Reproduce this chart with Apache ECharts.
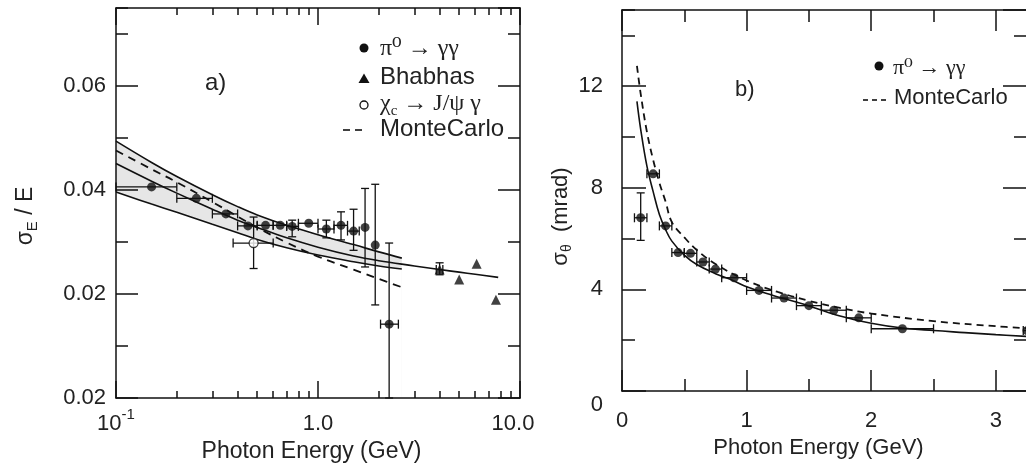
<!DOCTYPE html>
<html><head><meta charset="utf-8">
<script src="https://cdn.jsdelivr.net/npm/echarts@6.0.0/dist/echarts.min.js"></script>
<style>html,body{margin:0;padding:0;background:#fff}#c{width:1026px;height:471px}</style>
</head><body><div id="c"></div>
<script>
// ===================== DATA =====================
// ---- Panel a) energy resolution vs photon energy (log x) ----
const aPi0E      = [0.15, 0.25, 0.35, 0.45, 0.55, 0.65, 0.745, 0.9, 1.1, 1.3, 1.5, 1.71, 1.92, 2.25];
const aPi0Res    = [0.0406, 0.0384, 0.0354, 0.0331, 0.0332, 0.0332, 0.0330, 0.0336, 0.0325, 0.0332, 0.0321, 0.0328, 0.0294, 0.0142];
const aPi0ELo    = [0.1, 0.2, 0.3, 0.4, 0.5, 0.6, 0.7, 0.8, 1.0, 1.2, 1.4, null, null, 2.04];
const aPi0EHi    = [0.2, 0.3, 0.4, 0.5, 0.6, 0.7, 0.8, 1.0, 1.2, 1.4, 1.6, null, null, 2.5];
const aPi0ResLo  = [null, null, null, null, null, null, 0.0310, null, 0.0308, 0.0304, 0.0284, 0.0252, 0.0179, 0];
const aPi0ResHi  = [null, null, null, null, null, null, 0.0342, null, 0.0342, 0.0358, 0.0363, 0.0403, 0.0411, 0.0298];

const aBhabhaE     = [4.0, 5.0, 6.1, 7.6];
const aBhabhaRes   = [0.0247, 0.0228, 0.0258, 0.0189];
const aBhabhaELo   = [3.85, null, null, null];
const aBhabhaEHi   = [4.15, null, null, null];
const aBhabhaResLo = [0.0237, null, null, null];
const aBhabhaResHi = [0.0260, null, null, null];

const aChicE     = [0.48];
const aChicRes   = [0.0298];
const aChicELo   = [0.38];
const aChicEHi   = [0.60];
const aChicResLo = [0.0249];
const aChicResHi = [0.0348];

const aBandE     = [0.1, 0.15, 0.2, 0.3, 0.4, 0.5, 0.7, 1.0, 1.5, 2.0, 2.6];
const aBandUpper = [0.0494, 0.0453, 0.0426, 0.0391, 0.0368, 0.0352, 0.0332, 0.0314, 0.0295, 0.0281, 0.0269];
const aBandLower = [0.0396, 0.0373, 0.0357, 0.0334, 0.0318, 0.0305, 0.0289, 0.0275, 0.0262, 0.0254, 0.0248];
const aFitE      = [0.1, 0.15, 0.2, 0.3, 0.4, 0.5, 0.7, 1.0, 1.5, 2.0, 3.0, 4.0, 5.0, 6.0, 7.8];
const aFitRes    = [0.0451, 0.0417, 0.0394, 0.0363, 0.0342, 0.0328, 0.0308, 0.0290, 0.0273, 0.0264, 0.0254, 0.0247, 0.0242, 0.0238, 0.0232];
const aMcE       = [0.1, 0.15, 0.2, 0.3, 0.5, 0.7, 1.0, 1.5, 2.0, 2.6];
const aMcRes     = [0.0476, 0.0440, 0.0415, 0.0377, 0.0328, 0.0299, 0.0272, 0.0247, 0.0229, 0.0213];

const aXTickValues   = [0.1, 1, 10];
const aXTickText     = ['10', '1.0', '10.0'];
const aXTickSup      = ['-1', '', ''];
const aXMinorTicks   = [0.2, 0.3, 0.4, 0.5, 0.6, 0.7, 0.8, 0.9, 2, 3, 4, 5, 6, 7, 8, 9];
const aYTickValues   = [0, 0.02, 0.04, 0.06];
const aYTickLabels   = ['0.02', '0.02', '0.04', '0.06'];

// ---- Panel b) angular resolution vs photon energy ----
const bPi0E     = [0.15, 0.25, 0.35, 0.45, 0.55, 0.65, 0.75, 0.9, 1.1, 1.3, 1.5, 1.7, 1.9, 2.25, 3.25];
const bPi0Sig   = [6.82, 8.55, 6.5, 5.45, 5.42, 5.08, 4.8, 4.46, 3.96, 3.66, 3.36, 3.18, 2.88, 2.45, 2.38];
const bPi0ELo   = [0.1, 0.2, 0.3, 0.4, 0.5, 0.6, 0.7, 0.8, 1.0, 1.2, 1.4, 1.6, 1.8, 2.0, 3.22];
const bPi0EHi   = [0.2, 0.3, 0.4, 0.5, 0.6, 0.7, 0.8, 1.0, 1.2, 1.4, 1.6, 1.8, 2.0, 2.5, 3.3];
const bPi0SigLo = [5.93, null, null, null, null, null, null, null, null, null, null, null, null, null, null];
const bPi0SigHi = [7.80, null, null, null, null, null, null, null, null, null, null, null, null, null, null];

const bFitE   = [0.12, 0.15, 0.2, 0.25, 0.3, 0.35, 0.4, 0.5, 0.6, 0.75, 0.9, 1.0, 1.2, 1.5, 1.75, 2.0, 2.25, 2.5, 2.75, 3.0, 3.25];
const bFitSig = [11.4, 10.3, 8.85, 7.85, 6.95, 6.35, 5.9, 5.35, 4.98, 4.62, 4.33, 4.1, 3.78, 3.35, 2.95, 2.67, 2.48, 2.38, 2.3, 2.22, 2.15];
const bMcE    = [0.12, 0.15, 0.2, 0.25, 0.3, 0.35, 0.4, 0.5, 0.6, 0.75, 1.0, 1.25, 1.5, 1.75, 2.0, 2.5, 3.0, 3.25];
const bMcSig  = [12.8, 11.7, 10.2, 9.1, 8.2, 7.45, 6.65, 6.05, 5.55, 5.0, 4.35, 3.9, 3.55, 3.27, 3.05, 2.75, 2.55, 2.47];

const bYTickValues = [0, 4, 8, 12];
const bYTickLabels = ['0', '4', '8', '12'];
const bXTickValues = [0, 1, 2, 3];
const bXTickLabels = ['0', '1', '2', '3'];

// ===================== CHART =====================
const FONT = '"Liberation Sans", Arial, Helvetica, sans-serif';
const SERIF = '"Liberation Serif", "DejaVu Serif", serif';
const INK = '#111';
const TXT = '#222';

function errData(x, y, xl, xh, yl, yh) {
  return x.map((v, i) => [v, y[i],
    xl[i] == null ? v : xl[i], xh[i] == null ? v : xh[i],
    yl[i] == null ? y[i] : yl[i], yh[i] == null ? y[i] : yh[i]]);
}
function errRender(params, api) {
  const x = api.value(0), y = api.value(1);
  const xl = api.value(2), xh = api.value(3), yl = api.value(4), yh = api.value(5);
  const st = { stroke: INK, lineWidth: 1.3 };
  const ch = [];
  const cap = 4.5;
  if (xh > xl) {
    const a = api.coord([xl, y]), b = api.coord([xh, y]);
    ch.push({ type: 'line', shape: { x1: a[0], y1: a[1], x2: b[0], y2: b[1] }, style: st });
    ch.push({ type: 'line', shape: { x1: a[0], y1: a[1] - cap, x2: a[0], y2: a[1] + cap }, style: st });
    ch.push({ type: 'line', shape: { x1: b[0], y1: b[1] - cap, x2: b[0], y2: b[1] + cap }, style: st });
  }
  if (yh > yl) {
    const a = api.coord([x, yl]), b = api.coord([x, yh]);
    ch.push({ type: 'line', shape: { x1: a[0], y1: a[1], x2: b[0], y2: b[1] }, style: st });
    ch.push({ type: 'line', shape: { x1: a[0] - 4, y1: a[1], x2: a[0] + 4, y2: a[1] }, style: st });
    ch.push({ type: 'line', shape: { x1: b[0] - 4, y1: b[1], x2: b[0] + 4, y2: b[1] }, style: st });
  }
  return { type: 'group', children: ch };
}
function pairs(x, y) { return x.map((v, i) => [v, y[i]]); }

const tickStyle = { color: INK, width: 1.5 };
const lineAx = { show: true, onZero: false, lineStyle: { color: INK, width: 1.5 } };
const hidden = { show: false, onZero: false };
function ax(o) {
  return Object.assign({
    z: 6, axisLine: lineAx, splitLine: { show: false },
    axisLabel: { show: false }, axisTick: { show: false }
  }, o);
}
function ticks(len, extra) { return Object.assign({ show: true, inside: true, length: len, lineStyle: tickStyle }, extra || {}); }

const gA = { left: 116, right: 506, top: 8, bottom: 73, outerBoundsMode: 'none', containLabel: false };
const gB = { left: 622, right: -1, top: 10, bottom: 80, outerBoundsMode: 'none', containLabel: false };

const labelBase = { show: true, color: TXT, fontFamily: FONT, fontSize: 22 };

const option = {
  animation: false,
  backgroundColor: '#fff',
  grid: [gA, Object.assign({}, gA), gB, Object.assign({}, gB)],
  xAxis: [
    ax({ gridIndex: 0, type: 'log', logBase: 10, min: 0.1, max: 10, position: 'bottom',
      axisTick: ticks(17),
      axisLabel: Object.assign({}, labelBase, {
        margin: 9,
        formatter: function (v) {
          let best = 0, d = 1e9;
          aXTickValues.forEach((t, i) => { const e = Math.abs(Math.log10(v) - Math.log10(t)); if (e < d) { d = e; best = i; } });
          if (d > 0.01) return '';
          const txt = aXTickText[best], sup = aXTickSup[best];
          if (best === aXTickValues.length - 1) return '{r|' + txt + '}';
          return '{n|' + txt + '}' + (sup ? '{s|' + sup + '}' : '');
        },
        rich: {
          n: { fontSize: 22, fontFamily: FONT, color: TXT, lineHeight: 28, verticalAlign: 'bottom' },
          r: { fontSize: 22, fontFamily: FONT, color: TXT, lineHeight: 28, verticalAlign: 'bottom', padding: [0, 14, 0, 0] },
          s: { fontSize: 15, fontFamily: FONT, color: TXT, lineHeight: 15, verticalAlign: 'top' }
        }
      }),
      name: 'Photon Energy (GeV)', nameLocation: 'middle', nameGap: 41,
      nameTextStyle: { fontSize: 23, fontFamily: FONT, color: TXT, padding: [0, 13, 0, 0] }
    }),
    ax({ gridIndex: 0, type: 'log', logBase: 10, min: 0.1, max: 10, position: 'top', axisTick: ticks(17) }),
    ax({ gridIndex: 1, type: 'value', min: -1, max: 1, position: 'bottom', axisLine: hidden,
      axisTick: ticks(7, { customValues: aXMinorTicks.map(Math.log10) }) }),
    ax({ gridIndex: 1, type: 'value', min: -1, max: 1, position: 'top', axisLine: hidden,
      axisTick: ticks(7, { customValues: aXMinorTicks.map(Math.log10) }) }),
    ax({ gridIndex: 2, type: 'value', min: 0, max: 3.25, interval: 1, position: 'bottom',
      axisTick: ticks(21),
      axisLabel: Object.assign({}, labelBase, {
        margin: 19, showMaxLabel: false,
        formatter: function (v) { const i = bXTickValues.findIndex(t => Math.abs(t - v) < 1e-6); return i < 0 ? '' : bXTickLabels[i]; }
      }),
      name: 'Photon Energy (GeV)', nameLocation: 'middle', nameGap: 45,
      nameTextStyle: { fontSize: 22, fontFamily: FONT, color: TXT, padding: [0, 12, 0, 0] }
    }),
    ax({ gridIndex: 2, type: 'value', min: 0, max: 3.25, interval: 1, position: 'top', axisTick: ticks(21) }),
    ax({ gridIndex: 3, type: 'value', min: 0, max: 3.25, interval: 0.5, position: 'bottom', axisLine: hidden, axisTick: ticks(12) }),
    ax({ gridIndex: 3, type: 'value', min: 0, max: 3.25, interval: 0.5, position: 'top', axisLine: hidden, axisTick: ticks(12) })
  ],
  yAxis: [
    ax({ gridIndex: 0, type: 'value', min: 0, max: 0.075, interval: 0.02, position: 'left',
      axisTick: ticks(22),
      axisLabel: Object.assign({}, labelBase, {
        margin: 10, showMaxLabel: false,
        formatter: function (v) { const i = aYTickValues.findIndex(t => Math.abs(t - v) < 1e-6); return i < 0 ? '' : aYTickLabels[i]; }
      }),
      name: '{a|σ}{b|E}{a| / E}', nameLocation: 'middle', nameGap: 76,
      nameTextStyle: { padding: [0, 26, 0, 0],
        rich: { a: { fontSize: 23, fontFamily: FONT, color: TXT, lineHeight: 28, verticalAlign: 'middle' },
                b: { fontSize: 15, fontFamily: FONT, color: TXT, lineHeight: 15, verticalAlign: 'bottom' } } }
    }),
    ax({ gridIndex: 0, type: 'value', min: 0, max: 0.075, interval: 0.02, position: 'right', axisTick: ticks(22) }),
    ax({ gridIndex: 1, type: 'value', min: 0, max: 0.075, interval: 0.01, position: 'left', axisLine: hidden, axisTick: ticks(12) }),
    ax({ gridIndex: 1, type: 'value', min: 0, max: 0.075, interval: 0.01, position: 'right', axisLine: hidden, axisTick: ticks(12) }),
    ax({ gridIndex: 2, type: 'value', min: 0, max: 15, interval: 4, position: 'left',
      axisTick: ticks(24),
      axisLabel: Object.assign({}, labelBase, {
        margin: 19, showMaxLabel: false,
        formatter: function (v) {
          const i = bYTickValues.findIndex(t => Math.abs(t - v) < 1e-6);
          if (i < 0) return '';
          return i === 0 ? '{low|' + bYTickLabels[i] + '}' : bYTickLabels[i];
        },
        rich: { low: { fontSize: 22, fontFamily: FONT, color: TXT, padding: [28, 0, 0, 0] } }
      }),
      name: '{a|σ}{b|θ}{a|  (mrad)}', nameLocation: 'middle', nameGap: 44,
      nameTextStyle: { padding: [0, 32, 0, 0],
        rich: { a: { fontSize: 22, fontFamily: FONT, color: TXT, lineHeight: 28, verticalAlign: 'middle' },
                b: { fontSize: 14, fontFamily: FONT, color: TXT, lineHeight: 14, verticalAlign: 'bottom' } } }
    }),
    ax({ gridIndex: 2, type: 'value', min: 0, max: 15, interval: 4, position: 'right', axisTick: ticks(24) }),
    ax({ gridIndex: 3, type: 'value', min: 0, max: 15, interval: 2, position: 'left', axisLine: hidden, axisTick: ticks(13) }),
    ax({ gridIndex: 3, type: 'value', min: 0, max: 15, interval: 2, position: 'right', axisLine: hidden, axisTick: ticks(13) })
  ],
  series: [
    // ---- panel a ----
    // gray band between upper and lower curves: gray fill under upper, white fill under lower
    { name: 'band-upper-fill', type: 'line', xAxisIndex: 0, yAxisIndex: 0, smooth: 0.4, symbol: 'none',
      lineStyle: { opacity: 0 }, areaStyle: { color: '#e6e6e6', opacity: 1 },
      data: pairs(aBandE, aBandUpper), z: 1, silent: true },
    { name: 'band-lower-fill', type: 'line', xAxisIndex: 0, yAxisIndex: 0, smooth: 0.4, symbol: 'none',
      lineStyle: { opacity: 0 }, areaStyle: { color: '#ffffff', opacity: 1 },
      data: pairs(aBandE, aBandLower), z: 2, silent: true },
    { name: 'upper', type: 'line', xAxisIndex: 0, yAxisIndex: 0, smooth: 0.4, symbol: 'none',
      lineStyle: { color: INK, width: 1.6 }, data: pairs(aBandE, aBandUpper), z: 3 },
    { name: 'lower', type: 'line', xAxisIndex: 0, yAxisIndex: 0, smooth: 0.4, symbol: 'none',
      lineStyle: { color: INK, width: 1.6 }, data: pairs(aBandE, aBandLower), z: 3 },
    { name: 'fit', type: 'line', xAxisIndex: 0, yAxisIndex: 0, smooth: 0.4, symbol: 'none',
      lineStyle: { color: INK, width: 1.6 }, data: pairs(aFitE, aFitRes), z: 3 },
    { name: 'MonteCarlo', type: 'line', xAxisIndex: 0, yAxisIndex: 0, smooth: 0.4, symbol: 'none',
      lineStyle: { color: INK, width: 1.8, type: [8, 6] }, data: pairs(aMcE, aMcRes), z: 3 },
    { name: 'err-a', type: 'custom', xAxisIndex: 0, yAxisIndex: 0, renderItem: errRender, z: 4,
      encode: { x: 0, y: 1 },
      data: errData(aPi0E, aPi0Res, aPi0ELo, aPi0EHi, aPi0ResLo, aPi0ResHi)
        .concat(errData(aChicE, aChicRes, aChicELo, aChicEHi, aChicResLo, aChicResHi))
        .concat(errData(aBhabhaE, aBhabhaRes, aBhabhaELo, aBhabhaEHi, aBhabhaResLo, aBhabhaResHi)) },
    { name: 'π⁰ → γγ', type: 'scatter', xAxisIndex: 0, yAxisIndex: 0, symbol: 'circle', symbolSize: 9,
      itemStyle: { color: INK }, data: pairs(aPi0E, aPi0Res), z: 5 },
    { name: 'χc → J/ψ γ', type: 'scatter', xAxisIndex: 0, yAxisIndex: 0, symbol: 'circle', symbolSize: 9,
      itemStyle: { color: '#fff', borderColor: INK, borderWidth: 1.3 }, data: pairs(aChicE, aChicRes), z: 5 },
    { name: 'Bhabhas', type: 'scatter', xAxisIndex: 0, yAxisIndex: 0, symbol: 'triangle', symbolSize: 10,
      itemStyle: { color: INK }, data: pairs(aBhabhaE, aBhabhaRes), z: 5 },
    // ---- panel b ----
    { name: 'fit-b', type: 'line', xAxisIndex: 4, yAxisIndex: 4, smooth: 0.4, symbol: 'none',
      lineStyle: { color: INK, width: 1.6 }, data: pairs(bFitE, bFitSig), z: 3 },
    { name: 'MonteCarlo b', type: 'line', xAxisIndex: 4, yAxisIndex: 4, smooth: 0.4, symbol: 'none',
      lineStyle: { color: INK, width: 1.8, type: [7, 5] }, data: pairs(bMcE, bMcSig), z: 3 },
    { name: 'err-b', type: 'custom', xAxisIndex: 4, yAxisIndex: 4, renderItem: errRender, z: 4,
      encode: { x: 0, y: 1 },
      data: errData(bPi0E, bPi0Sig, bPi0ELo, bPi0EHi, bPi0SigLo, bPi0SigHi) },
    { name: 'π⁰ → γγ (b)', type: 'scatter', xAxisIndex: 4, yAxisIndex: 4, symbol: 'circle', symbolSize: 9,
      itemStyle: { color: INK }, data: pairs(bPi0E, bPi0Sig), z: 5 }
  ],
  graphic: [
    // panel labels
    { type: 'text', x: 205, y: 83, style: { text: 'a)', fontSize: 24, fontFamily: FONT, fill: TXT, verticalAlign: 'middle' } },
    { type: 'text', x: 735, y: 90, style: { text: 'b)', fontSize: 22, fontFamily: FONT, fill: TXT, verticalAlign: 'middle' } },
    // legend a
    { type: 'circle', shape: { cx: 364, cy: 48, r: 4.5 }, style: { fill: INK } },
    { type: 'text', x: 380, y: 49, style: { text: 'π⁰ → γγ', fontSize: 24, fontFamily: SERIF, fill: TXT, verticalAlign: 'middle' } },
    { type: 'polygon', shape: { points: [[364, 73.5], [369.5, 83], [358.5, 83]] }, style: { fill: INK } },
    { type: 'text', x: 380, y: 77, style: { text: 'Bhabhas', fontSize: 24, fontFamily: FONT, fill: TXT, verticalAlign: 'middle' } },
    { type: 'circle', shape: { cx: 364, cy: 105, r: 4 }, style: { fill: '#fff', stroke: INK, lineWidth: 1.3 } },
    { type: 'text', x: 380, y: 104, style: {
        text: '{a|χ}{b|c}{a| → J/ψ γ}', verticalAlign: 'middle',
        rich: { a: { fontSize: 24, fontFamily: SERIF, fill: TXT, color: TXT, lineHeight: 30, verticalAlign: 'middle' },
                b: { fontSize: 15, fontFamily: SERIF, fill: TXT, color: TXT, lineHeight: 15, verticalAlign: 'bottom' } } } },
    { type: 'line', shape: { x1: 343, y1: 130, x2: 350, y2: 130 }, style: { stroke: INK, lineWidth: 1.6 } },
    { type: 'line', shape: { x1: 355, y1: 130, x2: 362, y2: 130 }, style: { stroke: INK, lineWidth: 1.6 } },
    { type: 'text', x: 380, y: 129, style: { text: 'MonteCarlo', fontSize: 24, fontFamily: FONT, fill: TXT, verticalAlign: 'middle' } },
    // legend b
    { type: 'circle', shape: { cx: 879, cy: 66, r: 4.5 }, style: { fill: INK } },
    { type: 'text', x: 893, y: 68, style: { text: 'π⁰ → γγ', fontSize: 22, fontFamily: SERIF, fill: TXT, verticalAlign: 'middle' } },
    { type: 'line', shape: { x1: 863, y1: 100, x2: 868, y2: 100 }, style: { stroke: INK, lineWidth: 1.6 } },
    { type: 'line', shape: { x1: 872, y1: 100, x2: 877, y2: 100 }, style: { stroke: INK, lineWidth: 1.6 } },
    { type: 'line', shape: { x1: 881, y1: 100, x2: 886, y2: 100 }, style: { stroke: INK, lineWidth: 1.6 } },
    { type: 'text', x: 894, y: 98, style: { text: 'MonteCarlo', fontSize: 22, fontFamily: FONT, fill: TXT, verticalAlign: 'middle' } }
  ]
};

const chart = echarts.init(document.getElementById('c'), null, { renderer: 'canvas' });
chart.setOption(option);
</script>
</body></html>
